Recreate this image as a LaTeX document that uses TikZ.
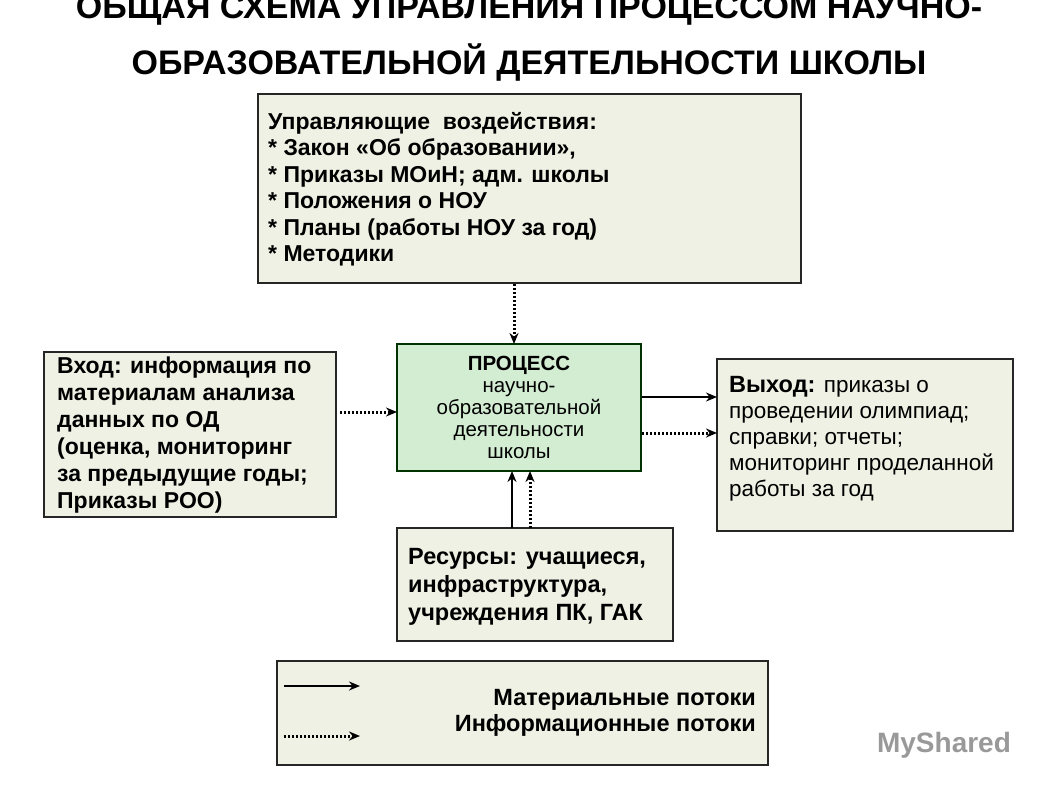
\documentclass[tikz,border=0pt]{standalone}
\usepackage{fontspec}
\setmainfont{Liberation Sans}
\usetikzlibrary{arrows.meta}
\definecolor{boxfill}{HTML}{EEF1E3}
\definecolor{procfill}{HTML}{D3EDD3}
\begin{document}
\begin{tikzpicture}[x=1pt,y=-1pt,
 box/.style={draw=black!85,line width=2.5pt,fill=boxfill},
 txt/.style={anchor=north west,align=left,inner sep=0pt,font=\fontsize{23}{26.5}\selectfont\bfseries},
 sol/.style={line width=2.5pt,-{Stealth[length=11pt,width=9pt]}},
 dot/.style={line width=3pt,dash pattern=on 2pt off 2pt,-{Stealth[length=11pt,width=9pt]}}]
\useasboundingbox (0,0) rectangle (1058,793);
\node[font=\fontsize{34}{36}\selectfont\bfseries] (t1) at (529,10) {ОБЩАЯ СХЕМА УПРАВЛЕНИЯ ПРОЦЕССОМ НАУЧНО-};
\node[font=\fontsize{34}{36}\selectfont\bfseries] (t2) at (529,62) {ОБРАЗОВАТЕЛЬНОЙ ДЕЯТЕЛЬНОСТИ ШКОЛЫ};
\draw[box] (258,94) rectangle (801,283);
\node[txt] (top) at (268,112) {Управляющие\ \ воздействия:\\* Закон «Об образовании»,\\* Приказы МОиН; адм. школы\\* Положения о НОУ\\* Планы (работы НОУ за год)\\* Методики};
\draw[box,fill=procfill,draw=black!80!green] (397,344) rectangle (641,471);
\node[align=center,inner sep=0pt,font=\fontsize{20.5}{22}\selectfont] (proc) at (519,407) {\textbf{ПРОЦЕСС}\\ научно-\\образовательной\\деятельности\\школы};
\draw[box] (44,352) rectangle (336,517);
\node[txt,font=\fontsize{23}{27}\selectfont\bfseries] (in) at (57,357) {Вход: информация по\\материалам анализа\\данных по ОД\\(оценка, мониторинг\\за предыдущие годы;\\Приказы РОО)};
\draw[box] (717,359) rectangle (1013,531);
\node[txt,font=\fontsize{22.5}{26}\selectfont] (out) at (729,376) {\textbf{\fontsize{23.5}{26}\selectfont Выход:} приказы о\\проведении олимпиад;\\справки; отчеты;\\мониторинг проделанной\\работы за год};
\draw[box] (397,528) rectangle (673,641);
\node[txt,font=\fontsize{23.5}{28}\selectfont\bfseries] (res) at (408,548) {Ресурсы: учащиеся,\\инфраструктура,\\учреждения ПК, ГАК};
\draw[box] (277,661) rectangle (768,765);
\node[anchor=north east,align=right,inner sep=0pt,font=\fontsize{23.5}{26}\selectfont\bfseries] (leg) at (756,689) {Материальные потоки\\Информационные потоки};
\coordinate (a1) at (514,284); \coordinate (a2) at (514,344);
\draw[dot] (a1) -- (a2);
\coordinate (b1) at (340,412); \coordinate (b2) at (397,412);
\draw[dot] (b1) -- (b2);
\coordinate (c1) at (642,397); \coordinate (c2) at (717,397);
\draw[sol] (c1) -- (c2);
\coordinate (d1) at (642,433); \coordinate (d2) at (717,433);
\draw[dot] (d1) -- (d2);
\coordinate (e1) at (512,528); \coordinate (e2) at (512,471);
\draw[sol] (e1) -- (e2);
\coordinate (f1) at (530,528); \coordinate (f2) at (530,471);
\draw[dot] (f1) -- (f2);
\coordinate (g1) at (284,686); \coordinate (g2) at (360,686);
\draw[sol] (g1) -- (g2);
\coordinate (h1) at (284,736); \coordinate (h2) at (360,736);
\draw[dot] (h1) -- (h2);
\node[text=black!40,font=\fontsize{28}{28}\selectfont\bfseries] (wm) at (944,745) {MyShared};
\end{tikzpicture}
\end{document}
